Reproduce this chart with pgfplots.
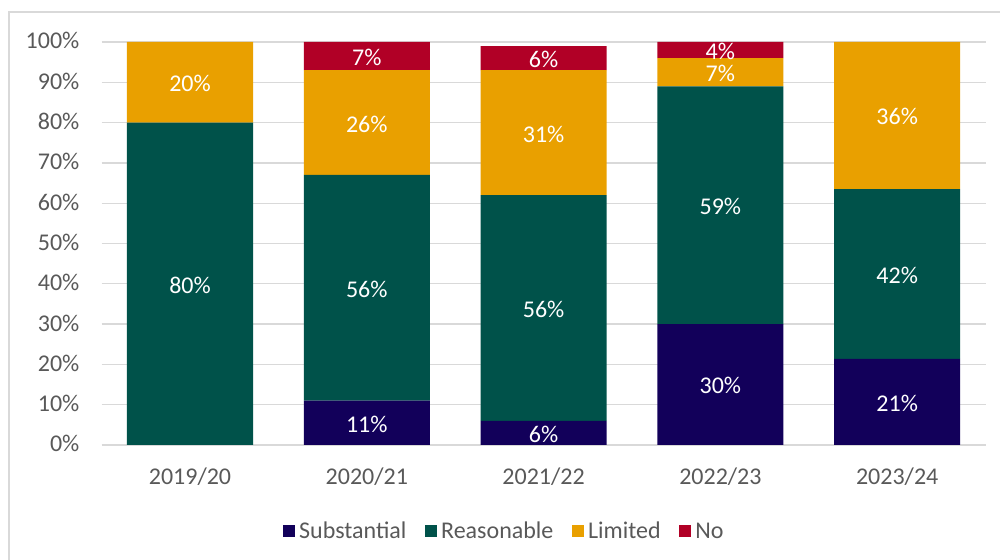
\documentclass[border=0pt]{standalone}
\usepackage{pgfplots}
\pgfplotsset{compat=1.18}
\usepackage{fontspec}
\setmainfont{Carlito}
\definecolor{subst}{HTML}{12005A}
\definecolor{reason}{HTML}{00524A}
\definecolor{limited}{HTML}{E9A000}
\definecolor{nocol}{HTML}{B10026}
\definecolor{gridgray}{HTML}{D9D9D9}
\definecolor{textgray}{HTML}{595959}
\begin{document}
\begin{tikzpicture}
\begin{axis}[
  at={(0pt,0pt)}, anchor=south west, scale only axis,
  width=663pt, height=302.25pt,
  xmin=-0.5, xmax=4.5, ymin=0, ymax=100, enlargelimits=false,
  ybar stacked, bar width=94.5pt,
  xtick={0,1,2,3,4}, xticklabels={2019/20,2020/21,2021/22,2022/23,2023/24},
  ytick={0,10,...,100},
  yticklabels={0\%,10\%,20\%,30\%,40\%,50\%,60\%,70\%,80\%,90\%,100\%},
  axis line style={draw=none}, major tick length=0pt,
  ymajorgrids, grid style={draw=gridgray, line width=1pt},
  tick label style={font=\fontsize{18}{21}\selectfont, text=textgray},
  yticklabel style={anchor=base east, inner sep=0pt, xshift=-16.5pt, yshift=-5.25pt},
  xticklabel style={anchor=base, inner sep=0pt, yshift=-30pt},
  clip=false,
  point meta=explicit symbolic,
  nodes near coords={\pgfplotspointmeta\%},
  every node near coord/.append style={font=\fontsize{18}{21}\selectfont, text=white, anchor=center, yshift=-1pt},
  legend columns=4,
  legend style={at={(0.456,-0.2146)}, anchor=center, draw=none, fill=none,
    font=\fontsize{18}{21}\selectfont, text=textgray,
    /tikz/every even column/.append style={column sep=12pt},
    /tikz/every odd column/.append style={column sep=1pt}},
  legend image code/.code={\fill[#1] (0pt,-4.5pt) rectangle (9pt,4.5pt);},
]
\addplot[fill=subst, draw=none] coordinates {(0,0) [] (1,11) [11] (2,6) [6] (3,30) [30] (4,21.4) [21]};
\addplot[fill=reason, draw=none] coordinates {(0,80) [80] (1,56) [56] (2,56) [56] (3,59) [59] (4,42.1) [42]};
\addplot[fill=limited, draw=none] coordinates {(0,20) [20] (1,26) [26] (2,31) [31] (3,7) [7] (4,36.5) [36]};
\addplot[fill=nocol, draw=none] coordinates {(0,0) [] (1,7) [7] (2,6) [6] (3,4) [4] (4,0) []};
\legend{Substantial,Reasonable,Limited,No}
\end{axis}
\pgfresetboundingbox
\path[use as bounding box] (-76.2pt,-86.25pt) rectangle ++(750pt,420pt);
\draw[color=gridgray, line width=1.1pt] (-69.45pt,-86.25pt) -- (-69.45pt,324.75pt) -- (673.8pt,324.75pt);
\end{tikzpicture}
\end{document}
